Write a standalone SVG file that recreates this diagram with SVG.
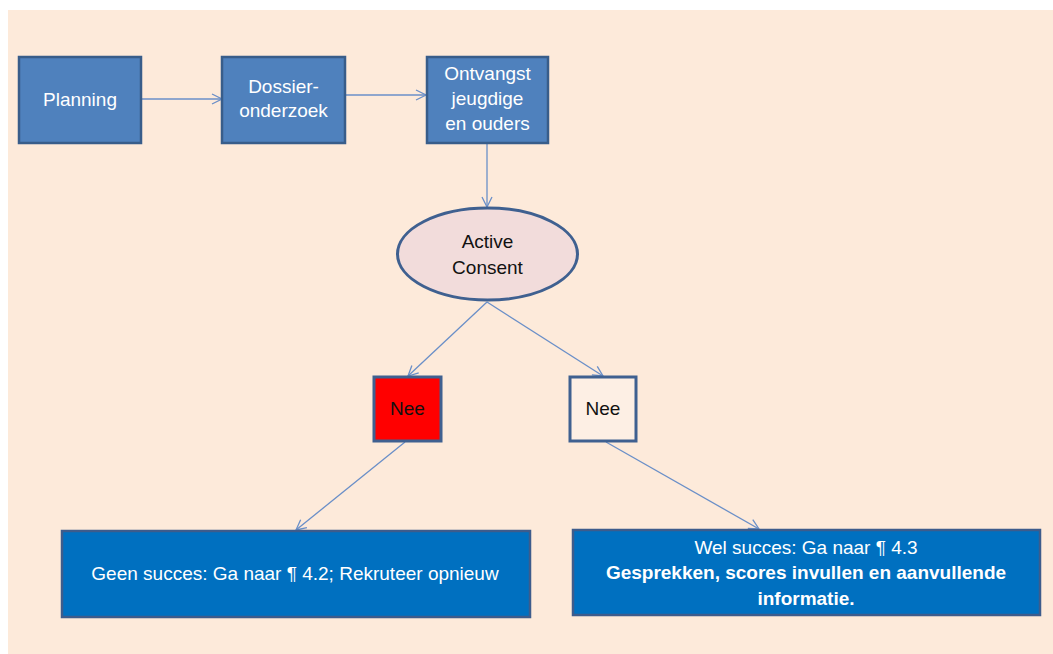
<svg xmlns="http://www.w3.org/2000/svg" width="1053" height="654" viewBox="0 0 1053 654">
<defs>
<style>
.bg{fill:#FDEADA}
.top{fill:#4F81BD;stroke:#385D8A;stroke-width:2.5}
.t{font-family:"Liberation Sans",Arial,sans-serif;font-size:19px;text-anchor:middle}
.w{fill:#FFFFFF}
.k{fill:#111111}
.conn{stroke:#6A8FC8;stroke-width:1.3;fill:none}
.dark{fill:#0070C0;stroke:#3D5C8C;stroke-width:2.5}
.b{font-weight:bold}
</style>
<marker id="ah" viewBox="0 0 12 12" refX="11" refY="6" markerWidth="12" markerHeight="12" markerUnits="userSpaceOnUse" orient="auto">
<path d="M1,1 L11,6 L1,11" fill="none" stroke="#6A8FC8" stroke-width="1.3"/>
</marker>
</defs>
<rect class="bg" x="8" y="10" width="1045" height="644"/>
<g id="connectors">
<line class="conn" x1="141" y1="99" x2="222" y2="99" marker-end="url(#ah)"/>
<line class="conn" x1="345" y1="95" x2="426" y2="95" marker-end="url(#ah)"/>
<line class="conn" x1="487" y1="143" x2="487" y2="207" marker-end="url(#ah)"/>
<line class="conn" x1="487" y1="302" x2="408" y2="376" marker-end="url(#ah)"/>
<line class="conn" x1="487" y1="302" x2="603" y2="376" marker-end="url(#ah)"/>
<line class="conn" x1="405" y1="442" x2="296" y2="530" marker-end="url(#ah)"/>
<line class="conn" x1="606" y1="442" x2="759" y2="529" marker-end="url(#ah)"/>
</g>
<g id="planning">
<rect class="top" x="19" y="57" width="122" height="86"/>
<text class="t w" x="80" y="106">Planning</text>
</g>
<g id="dossier">
<rect class="top" x="222" y="57" width="123" height="86"/>
<text class="t w" x="283.5" y="93">Dossier-</text>
<text class="t w" x="283.5" y="117">onderzoek</text>
</g>
<g id="ontvangst">
<rect class="top" x="427" y="57" width="121" height="86"/>
<text class="t w" x="487.5" y="80">Ontvangst</text>
<text class="t w" x="487.5" y="105">jeugdige</text>
<text class="t w" x="487.5" y="130">en ouders</text>
</g>
<g id="consent">
<ellipse cx="487.5" cy="254" rx="90" ry="46" fill="#F2DCDB" stroke="#3F6090" stroke-width="3"/>
<text class="t k" x="487.5" y="248">Active</text>
<text class="t k" x="487.5" y="274">Consent</text>
</g>
<g id="nee-red">
<rect x="374" y="377" width="67" height="64" fill="#FF0000" stroke="#3F6090" stroke-width="3"/>
<text class="t k" x="407.5" y="415" font-size="18.5">Nee</text>
</g>
<g id="nee-white">
<rect x="570" y="377" width="66" height="64" fill="#FDEFE4" stroke="#3F6090" stroke-width="3"/>
<text class="t k" x="603" y="415" font-size="18.5">Nee</text>
</g>
<g id="geen-succes">
<rect class="dark" x="62" y="531" width="468" height="86"/>
<text class="t w" x="295" y="580" font-size="18">Geen succes: Ga naar ¶ 4.2; Rekruteer opnieuw</text>
</g>
<g id="wel-succes">
<rect class="dark" x="573" y="530" width="467" height="85"/>
<text class="t w" x="806" y="554" font-size="18">Wel succes: Ga naar ¶ 4.3</text>
<text class="t w b" x="806" y="579" font-size="17.5">Gesprekken, scores invullen en aanvullende</text>
<text class="t w b" x="806" y="605" font-size="17.5">informatie.</text>
</g>
</svg>
